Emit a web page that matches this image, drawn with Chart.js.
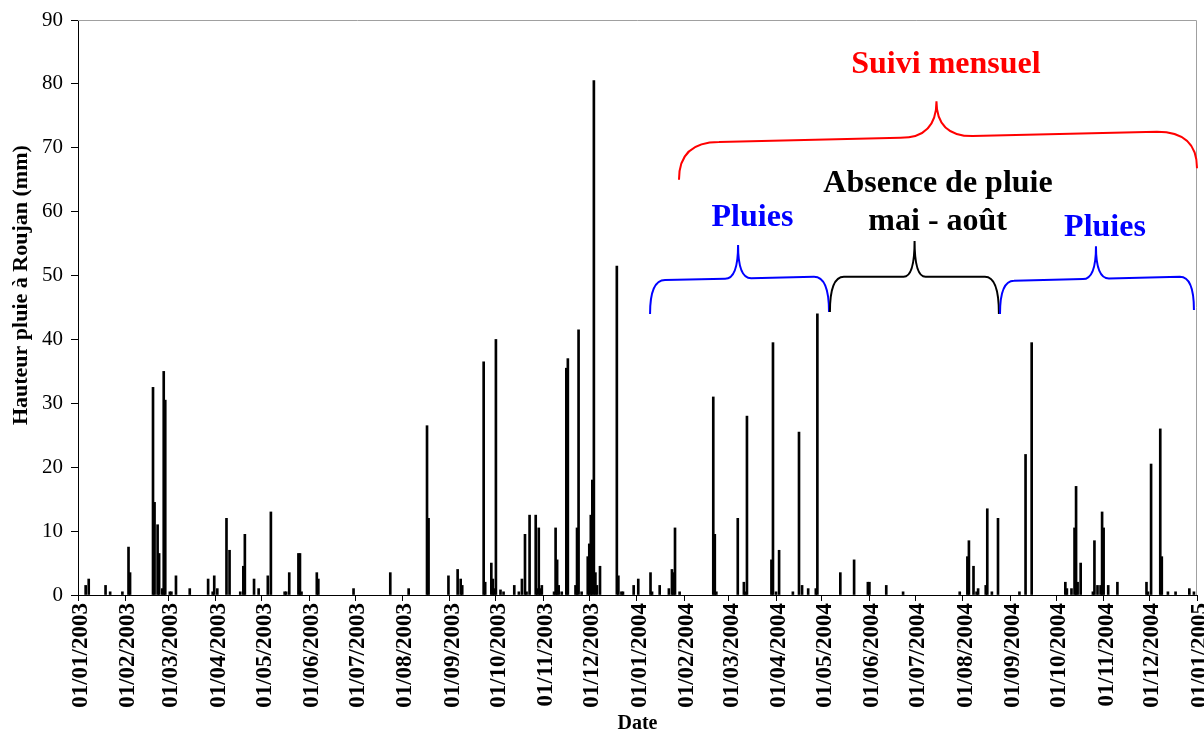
<!DOCTYPE html>
<html>
<head>
<meta charset="utf-8">
<script src="https://cdn.jsdelivr.net/npm/chart.js@4.4.1/dist/chart.umd.min.js"></script>
<style>
  html, body { margin: 0; padding: 0; background: #fff; }
  #wrap { width: 1204px; height: 735px; }
</style>
</head>
<body>
<div id="wrap"><canvas id="rainChart" width="1204" height="735"></canvas></div>
<script>
// daily rainfall at Roujan (only the rainy days)
const rainDates = [
  '06/01/2003', '08/01/2003', '19/01/2003', '22/01/2003', '30/01/2003',
  '03/02/2003', '04/02/2003', '19/02/2003', '20/02/2003', '22/02/2003', '23/02/2003', '25/02/2003', '26/02/2003', '27/02/2003',
  '02/03/2003', '03/03/2003', '06/03/2003', '15/03/2003', '27/03/2003', '30/03/2003', '31/03/2003',
  '02/04/2003', '08/04/2003', '10/04/2003', '17/04/2003', '19/04/2003', '20/04/2003', '26/04/2003', '29/04/2003',
  '05/05/2003', '07/05/2003', '16/05/2003', '17/05/2003', '19/05/2003', '25/05/2003', '26/05/2003', '27/05/2003',
  '06/06/2003', '07/06/2003', '30/06/2003',
  '24/07/2003',
  '05/08/2003', '17/08/2003', '18/08/2003', '31/08/2003',
  '06/09/2003', '08/09/2003', '09/09/2003', '23/09/2003', '24/09/2003', '28/09/2003', '29/09/2003', '30/09/2003',
  '01/10/2003', '04/10/2003', '06/10/2003', '13/10/2003', '16/10/2003', '18/10/2003', '20/10/2003', '21/10/2003', '23/10/2003', '27/10/2003', '28/10/2003', '29/10/2003', '30/10/2003', '31/10/2003',
  '08/11/2003', '09/11/2003', '10/11/2003', '11/11/2003', '13/11/2003', '16/11/2003', '17/11/2003', '22/11/2003', '23/11/2003', '24/11/2003', '26/11/2003', '30/11/2003',
  '01/12/2003', '02/12/2003', '03/12/2003', '04/12/2003', '05/12/2003', '06/12/2003', '08/12/2003', '19/12/2003', '20/12/2003', '22/12/2003', '23/12/2003', '30/12/2003',
  '02/01/2004', '10/01/2004', '11/01/2004', '16/01/2004', '22/01/2004', '24/01/2004', '25/01/2004', '26/01/2004', '29/01/2004',
  '20/02/2004', '21/02/2004', '22/02/2004',
  '07/03/2004', '11/03/2004', '12/03/2004', '13/03/2004', '29/03/2004', '30/03/2004',
  '01/04/2004', '03/04/2004', '12/04/2004', '16/04/2004', '18/04/2004', '22/04/2004', '27/04/2004', '28/04/2004',
  '13/05/2004', '22/05/2004', '31/05/2004',
  '01/06/2004', '12/06/2004', '23/06/2004',
  '30/07/2004',
  '04/08/2004', '05/08/2004', '08/08/2004', '10/08/2004', '11/08/2004', '16/08/2004', '17/08/2004', '20/08/2004', '24/08/2004',
  '07/09/2004', '11/09/2004', '15/09/2004',
  '07/10/2004', '08/10/2004', '11/10/2004', '13/10/2004', '14/10/2004', '15/10/2004', '17/10/2004', '25/10/2004', '26/10/2004', '28/10/2004', '30/10/2004', '31/10/2004',
  '01/11/2004', '04/11/2004', '10/11/2004', '29/11/2004', '30/11/2004',
  '02/12/2004', '08/12/2004', '09/12/2004', '13/12/2004', '18/12/2004', '27/12/2004', '30/12/2004'
];
const rainMm = [
  1.5, 2.5, 1.5, 0.5, 0.5,
  7.5, 3.5, 32.5, 14.5, 11, 6.5, 1, 35, 30.5,
  0.5, 0.5, 3, 1, 2.5, 0.5, 3,
  1, 12, 7, 0.5, 4.5, 9.5, 2.5, 1,
  3, 13, 0.5, 0.5, 3.5, 6.5, 6.5, 0.5,
  3.5, 2.5, 1,
  3.5,
  1, 26.5, 12, 3,
  4, 2.5, 1.5, 36.5, 2, 5, 2.5, 1,
  40, 0.8, 0.5, 1.5, 0.5, 2.5, 9.5, 0.5, 12.5, 12.5, 1, 10.5, 1, 1.5,
  0.5, 10.5, 5.5, 1.5, 0.5, 35.5, 37, 1.5, 10.5, 41.5, 0.5, 6,
  8, 12.5, 18, 80.5, 3.5, 1.5, 4.5, 51.5, 3, 0.5, 0.5, 1.5,
  2.5, 3.5, 0.5, 1.5, 1, 4, 3.5, 10.5, 0.5,
  31, 9.5, 0.5,
  12, 2, 0.5, 28, 5.5, 39.5,
  0.5, 7, 0.5, 25.5, 1.5, 1, 1, 44,
  3.5, 5.5, 2,
  2, 1.5, 0.5,
  0.5,
  6, 8.5, 4.5, 0.5, 1, 1.5, 13.5, 0.5, 12,
  0.5, 22, 39.5,
  2, 1, 1, 10.5, 17, 2, 5, 0.5, 8.5, 1.5, 1.5, 13,
  10.5, 1.5, 2, 2, 0.5,
  20.5, 26, 6, 0.5, 0.5, 1, 0.5
];
const tickLabels = [
  '01/01/2003', '01/02/2003', '01/03/2003', '01/04/2003', '01/05/2003', '01/06/2003',
  '01/07/2003', '01/08/2003', '01/09/2003', '01/10/2003', '01/11/2003', '01/12/2003',
  '01/01/2004', '01/02/2004', '01/03/2004', '01/04/2004', '01/05/2004', '01/06/2004',
  '01/07/2004', '01/08/2004', '01/09/2004', '01/10/2004', '01/11/2004', '01/12/2004',
  '01/01/2005'
];

// annotations, in chart units (days since start, mm)
const braces = [
  { color: '#ff0000', from: 392.6, to: 731, tip: 560.8, ends: [65, 66.8], line: [70.9, 72.5], peak: 77.3, corner: 40, notch: 36 },
  { color: '#0000ff', from: 373.7, to: 490.6, tip: 431.2, ends: [44, 44.3], line: [49.3, 49.8], peak: 54.8, corner: 15, notch: 13 },
  { color: '#000000', from: 491.2, to: 601.6, tip: 546.5, ends: [44.3, 44], line: [49.8, 49.8], peak: 55.4, corner: 14, notch: 11 },
  { color: '#0000ff', from: 602.3, to: 729, tip: 665, ends: [44, 44.6], line: [49.2, 49.8], peak: 54.6, corner: 14, notch: 13 }
];
const notes = [
  { text: 'Suivi mensuel', color: '#ff0000', x: 567, y: 81.7 },
  { text: 'Absence de pluie', color: '#000000', x: 561.8, y: 63.1 },
  { text: 'mai - août', color: '#000000', x: 561.6, y: 57.1 },
  { text: 'Pluies', color: '#0000ff', x: 440.6, y: 57.7 },
  { text: 'Pluies', color: '#0000ff', x: 670.9, y: 56.2 }
];
const yTitle = 'Hauteur pluie à Roujan (mm)';

const START = Date.UTC(2003, 0, 1);
const toDay = (s) => {
  const [d, m, y] = s.split('/').map(Number);
  return (Date.UTC(y, m - 1, d) - START) / 86400000;
};
const tickDays = tickLabels.map(toDay);
const rainPoints = rainDates.map((s, i) => ({ x: toDay(s), y: rainMm[i] }));

const serif = '"Liberation Serif", "Times New Roman", serif';

const drawBrace = (ctx, b, xs, ys) => {
  const x1 = xs.getPixelForValue(b.from);
  const x2 = xs.getPixelForValue(b.to);
  const xt = xs.getPixelForValue(b.tip);
  const l1 = ys.getPixelForValue(b.line[0]);
  const l2 = ys.getPixelForValue(b.line[1]);
  const c = b.corner, t = b.notch;
  const lineAt = (px) => l1 + (l2 - l1) * (px - x1 - c) / (x2 - x1 - 2 * c);
  ctx.strokeStyle = b.color;
  ctx.lineWidth = 2;
  ctx.beginPath();
  ctx.moveTo(x1, ys.getPixelForValue(b.ends[0]));
  ctx.quadraticCurveTo(x1, l1, x1 + c, l1);
  ctx.lineTo(xt - t, lineAt(xt - t));
  ctx.quadraticCurveTo(xt, lineAt(xt - t), xt, ys.getPixelForValue(b.peak));
  ctx.quadraticCurveTo(xt, lineAt(xt + t), xt + t, lineAt(xt + t));
  ctx.lineTo(x2 - c, l2);
  ctx.quadraticCurveTo(x2, l2, x2, ys.getPixelForValue(b.ends[1]));
  ctx.stroke();
};

const annotations = {
  id: 'annotations',
  afterDraw(chart) {
    const { ctx, chartArea: a, scales: { x, y } } = chart;
    ctx.save();
    // grey frame of the plot area (top and right)
    ctx.strokeStyle = '#a0a0a0';
    ctx.lineWidth = 1;
    ctx.beginPath();
    ctx.moveTo(a.left, a.top + 0.5);
    ctx.lineTo(a.right - 0.5, a.top + 0.5);
    ctx.lineTo(a.right - 0.5, a.bottom);
    ctx.stroke();

    braces.forEach((b) => drawBrace(ctx, b, x, y));

    ctx.font = 'bold 32px ' + serif;
    ctx.textAlign = 'center';
    ctx.textBaseline = 'alphabetic';
    notes.forEach((n) => {
      ctx.fillStyle = n.color;
      ctx.fillText(n.text, x.getPixelForValue(n.x), y.getPixelForValue(n.y));
    });

    // y axis title, sits a bit above the axis middle in the original
    ctx.translate(21, y.getPixelForValue(48.5));
    ctx.rotate(-Math.PI / 2);
    ctx.font = 'bold 22px ' + serif;
    ctx.fillStyle = '#000';
    ctx.textBaseline = 'middle';
    ctx.fillText(yTitle, 0, 0);
    ctx.restore();
  }
};

const ctx = document.getElementById('rainChart').getContext('2d');
new Chart(ctx, {
  type: 'bar',
  data: {
    datasets: [{
      label: 'Hauteur pluie',
      data: rainPoints,
      backgroundColor: '#000000',
      borderWidth: 0,
      barThickness: 2,
    }],
  },
  options: {
    responsive: false,
    animation: false,
    devicePixelRatio: 1,
    layout: { padding: { top: 20, right: 7, left: 0, bottom: 0 } },
    plugins: {
      legend: { display: false },
      tooltip: { enabled: false },
    },
    scales: {
      x: {
        type: 'linear',
        min: 0,
        max: tickDays[tickDays.length - 1],
        offset: false,
        afterBuildTicks: (s) => { s.ticks = tickDays.map((v) => ({ value: v })); },
        afterFit: (s) => { s.height = 140; s.paddingLeft = 0; s.paddingRight = 0; },
        grid: { offset: false, drawOnChartArea: false, color: '#000', tickLength: 6 },
        border: { color: '#000', width: 1 },
        ticks: {
          autoSkip: false,
          minRotation: 90,
          maxRotation: 90,
          padding: 2,
          labelOffset: 3,
          color: '#000',
          font: { family: serif, size: 23, weight: 'bold', lineHeight: 1 },
          callback: (v) => tickLabels[tickDays.indexOf(v)] || '',
        },
        title: {
          display: true,
          text: 'Date',
          color: '#000',
          font: { family: serif, size: 20, weight: 'bold', lineHeight: 1.1 },
          padding: { top: 0, bottom: 0 },
        },
      },
      y: {
        min: 0,
        max: 90,
        afterFit: (s) => { s.width = 78; s.paddingTop = 0; s.paddingBottom = 0; },
        grid: { drawOnChartArea: false, color: '#000', tickLength: 7 },
        border: { color: '#000', width: 1 },
        ticks: {
          stepSize: 10,
          padding: 8,
          color: '#000',
          font: { family: serif, size: 21 },
        },
      },
    },
  },
  plugins: [annotations],
});
</script>
</body>
</html>
